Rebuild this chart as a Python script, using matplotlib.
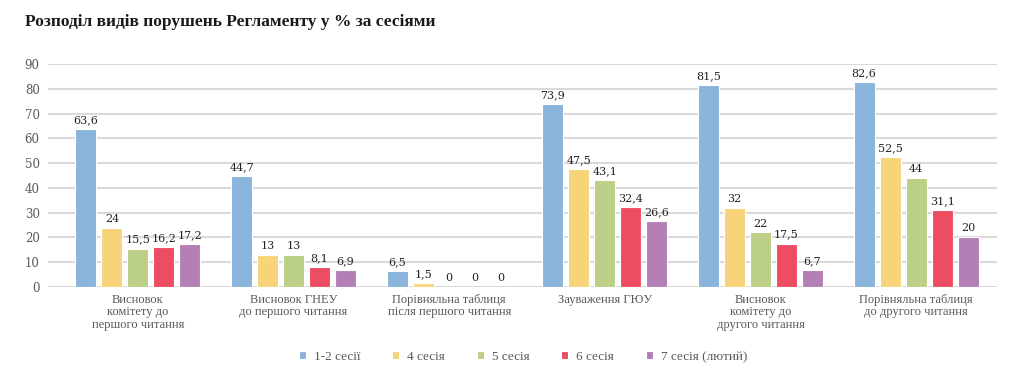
import matplotlib
matplotlib.use("Agg")
import matplotlib.pyplot as plt
import numpy as np

categories = ["Висновок\nкомітету до\nпершого читання",
              "Висновок ГНЕУ\nдо першого читання",
              "Порівняльна таблиця\nпісля першого читання",
              "Зауваження ГЮУ",
              "Висновок\nкомітету до\nдругого читання",
              "Порівняльна таблиця\nдо другого читання"]
series = ["1-2 сесії", "4 сесія", "5 сесія", "6 сесія", "7 сесія (лютий)"]
values = [
    [63.6, 44.7, 6.5, 73.9, 81.5, 82.6],
    [24, 13, 1.5, 47.5, 32, 52.5],
    [15.5, 13, 0, 43.1, 22, 44],
    [16.2, 8.1, 0, 32.4, 17.5, 31.1],
    [17.2, 6.9, 0, 26.6, 6.7, 20],
]
colors = ["#8AB4DC", "#F7D47A", "#BBD086", "#EC4D63", "#B47FB6"]

plt.rcParams['font.family'] = ['Liberation Serif', 'DejaVu Serif']
num_font = ['DejaVu Serif']

fig = plt.figure(figsize=(10.24, 3.79), dpi=100)
ax = fig.add_axes([48/1024, 1-287/379, 949/1024, 223/379])

x = np.arange(len(categories))
step = 0.167
width = 0.135

def fmt(v):
    s = ("%.1f" % v).replace(".", ",")
    if s.endswith(",0"):
        s = s[:-2]
    return s

for i, (name, vals, c) in enumerate(zip(series, values, colors)):
    pos = x + (i - 2) * step
    bars = ax.bar(pos, vals, width, color=c, edgecolor="white", linewidth=0.8, label=name, zorder=3)
    for b, v in zip(bars, vals):
        ax.text(b.get_x() + b.get_width()/2, v + 1.6, fmt(v), ha="center", va="bottom",
                fontsize=8, family=num_font, color="#222222", zorder=4)

ax.set_xlim(-0.578, 5.52)
ax.set_ylim(0, 90)
ax.set_yticks(range(0, 91, 10))
ax.yaxis.grid(True, color="#D9D9D9", linewidth=1.5, zorder=0)
ax.set_axisbelow(True)
for s in ax.spines.values():
    s.set_visible(False)
ax.tick_params(axis="y", length=0, labelsize=8.5, labelcolor="#595959", pad=6)
for t in ax.get_yticklabels():
    t.set_family(num_font)
ax.tick_params(axis="x", length=0, labelsize=9, labelcolor="#595959", pad=5)
ax.set_xticks(x)
ax.set_xticklabels(categories, linespacing=1.05)

fig.text(25/1024, 1-22/379, "Розподіл видів порушень Регламенту у % за сесіями",
         fontsize=12.5, fontweight="bold", color="#1a1a1a", va="center", ha="left")

fig.legend(loc="center", bbox_to_anchor=(523/1024, 1-357/379), ncol=5, frameon=False,
           fontsize=9.5, handlelength=0.55, handleheight=0.55, columnspacing=2.4,
           handletextpad=0.6, labelcolor="#595959")

fig.savefig("out.png", dpi=100, facecolor="white")
